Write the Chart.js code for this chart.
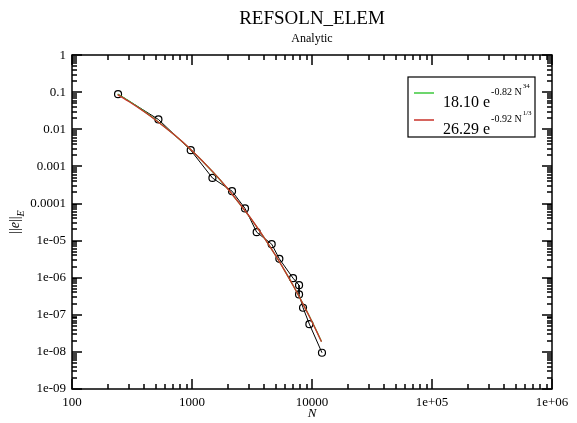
<!DOCTYPE html>
<html>
<head>
<meta charset="utf-8">
<script src="https://cdn.jsdelivr.net/npm/chart.js@4.4.0/dist/chart.umd.min.js"></script>
<style>
  html, body { margin: 0; padding: 0; background: #fff; }
</style>
</head>
<body>
<canvas id="chart" width="577" height="423"></canvas>
<script>
const SERIF = "'Liberation Serif', 'Times New Roman', serif";

// measured error vs number of unknowns
const sampleN = [242, 525, 976, 1480, 2155, 2765, 3460, 4613, 5345, 6950, 7800, 7800, 8420, 9510, 12110];
const sampleErr = [0.089, 0.0185, 0.00275, 4.9e-4, 2.16e-4, 7.4e-5, 1.69e-5, 8.05e-6, 3.23e-6, 9.75e-7, 6.3e-7, 3.55e-7, 1.55e-7, 5.6e-8, 9.5e-9];

// fitted curves
const fitN = [240, 300, 400, 500, 700, 1000, 1500, 2000, 3000, 4000, 5000, 6000, 7000, 8000, 9000, 10000, 11000, 12000];
const greenFit = [0.090, 0.0575, 0.0306, 0.0180, 0.00752, 0.00266, 7.0e-4, 2.42e-4, 4.5e-5, 1.18e-5, 3.85e-6, 1.44e-6, 6.0e-7, 2.7e-7, 1.3e-7, 6.6e-8, 3.5e-8, 1.9e-8];
const redFit = [0.0865, 0.0556, 0.0299, 0.0177, 0.00745, 0.00266, 7.02e-4, 2.43e-4, 4.55e-5, 1.19e-5, 3.87e-6, 1.44e-6, 5.98e-7, 2.68e-7, 1.28e-7, 6.47e-8, 3.41e-8, 1.87e-8];

// tick labels
const xDecades = [2, 3, 4, 5, 6];
const xTickLabels = ["100", "1000", "10000", "1e+05", "1e+06"];
const yDecades = [0, -1, -2, -3, -4, -5, -6, -7, -8, -9];
const yTickLabels = ["1", "0.1", "0.01", "0.001", "0.0001", "1e-05", "1e-06", "1e-07", "1e-08", "1e-09"];

// legend entries: base, exponent, exponent of N
const legendItems = [
  { color: "#3cc83c", base: "18.10 e", sup: "-0.82 N", sup2: "34" },
  { color: "#c8322a", base: "26.29 e", sup: "-0.92 N", sup2: "1/3" }
];

const GREEN = legendItems[0].color;
const RED = legendItems[1].color;

function toPoints(xs, ys) {
  return xs.map((x, i) => ({ x: x, y: ys[i] }));
}

function decadeLabel(v, decades, labels) {
  const p = Math.log10(v);
  const r = Math.round(p);
  if (Math.abs(p - r) > 1e-6) return "";
  const i = decades.indexOf(r);
  return i >= 0 ? labels[i] : "";
}

// frame, inward ticks on all four sides, y title, legend
const decorPlugin = {
  id: "decor",
  afterDraw(chart) {
    const ctx = chart.ctx;
    const a = chart.chartArea;
    const xs = chart.scales.x;
    const ys = chart.scales.y;
    const L = Math.round(a.left), R = Math.round(a.right);
    const T = Math.round(a.top), B = Math.round(a.bottom);
    ctx.save();
    ctx.strokeStyle = "#000";
    ctx.lineWidth = 1.5;
    ctx.strokeRect(L, T, R - L, B - T);

    ctx.beginPath();
    // x ticks, bottom and top
    for (let d = 2; d <= 6; d++) {
      for (let m = 1; m <= 9; m++) {
        const v = m * Math.pow(10, d);
        if (v > 1e6) break;
        const px = Math.round(xs.getPixelForValue(v));
        const len = m === 1 ? 10 : 5;
        ctx.moveTo(px, B); ctx.lineTo(px, B - len);
        ctx.moveTo(px, T); ctx.lineTo(px, T + len);
      }
    }
    // y ticks, left and right
    for (let d = -9; d <= 0; d++) {
      for (let m = 1; m <= 9; m++) {
        const v = m * Math.pow(10, d);
        if (v > 1) break;
        const py = Math.round(ys.getPixelForValue(v));
        const len = m === 1 ? 10 : 5;
        ctx.moveTo(L, py); ctx.lineTo(L + len, py);
        ctx.moveTo(R, py); ctx.lineTo(R - len, py);
      }
    }
    ctx.stroke();

    // y axis title ||e||_E
    ctx.save();
    ctx.fillStyle = "#000";
    ctx.translate(14, (a.top + a.bottom) / 2);
    ctx.rotate(-Math.PI / 2);
    ctx.textBaseline = "alphabetic";
    ctx.textAlign = "left";
    const parts = [
      { t: "||", f: "14px " + SERIF, dy: 0 },
      { t: "e", f: "italic 14px " + SERIF, dy: 0 },
      { t: "||", f: "14px " + SERIF, dy: 0 },
      { t: "E", f: "italic 10px " + SERIF, dy: 5 }
    ];
    let w = 0;
    parts.forEach(p => { ctx.font = p.f; w += ctx.measureText(p.t).width; });
    let x = -w / 2;
    parts.forEach(p => {
      ctx.font = p.f;
      ctx.fillText(p.t, x, 5 + p.dy);
      x += ctx.measureText(p.t).width;
    });
    ctx.restore();

    // legend box
    const bx = 408, by = 77, bw = 127, bh = 60;
    ctx.fillStyle = "#fff";
    ctx.fillRect(bx, by, bw, bh);
    ctx.strokeStyle = "#000";
    ctx.lineWidth = 1.2;
    ctx.strokeRect(bx, by, bw, bh);
    legendItems.forEach((it, i) => {
      const ly = by + 16 + i * 27;
      ctx.strokeStyle = it.color;
      ctx.lineWidth = 1.5;
      ctx.beginPath();
      ctx.moveTo(bx + 6, ly);
      ctx.lineTo(bx + 26, ly);
      ctx.stroke();
      ctx.fillStyle = "#000";
      ctx.textAlign = "left";
      ctx.textBaseline = "alphabetic";
      let tx = bx + 35;
      ctx.font = "16px " + SERIF;
      ctx.fillText(it.base, tx, ly + 14);
      tx += ctx.measureText(it.base).width + 1;
      ctx.font = "10px " + SERIF;
      ctx.fillText(it.sup, tx, ly + 2);
      tx += ctx.measureText(it.sup).width + 1;
      ctx.font = "7px " + SERIF;
      ctx.fillText(it.sup2, tx, ly - 5);
    });
    ctx.restore();
  }
};

new Chart(document.getElementById("chart"), {
  type: "scatter",
  data: {
    datasets: [
      {
        label: "red fit",
        data: toPoints(fitN, redFit),
        showLine: true,
        borderColor: RED,
        borderWidth: 1.3,
        pointRadius: 0,
        tension: 0.3
      },
      {
        label: "green fit",
        data: toPoints(fitN, greenFit),
        showLine: true,
        borderColor: GREEN,
        borderWidth: 1.3,
        pointRadius: 0,
        tension: 0.3
      },
      {
        label: "samples",
        data: toPoints(sampleN, sampleErr),
        showLine: true,
        borderColor: "#000",
        borderWidth: 1,
        pointRadius: 3.5,
        pointBorderWidth: 1.2,
        pointBorderColor: "#000",
        pointBackgroundColor: "rgba(0,0,0,0)"
      }
    ]
  },
  options: {
    responsive: false,
    animation: false,
    layout: { padding: { left: 0, right: 25, top: 0, bottom: 0 } },
    plugins: {
      legend: { display: false },
      tooltip: { enabled: false },
      title: {
        display: true,
        text: "REFSOLN_ELEM",
        color: "#000",
        fullSize: false,
        font: { family: SERIF, size: 19, weight: "normal" },
        padding: { top: 8, bottom: 0 }
      },
      subtitle: {
        display: true,
        text: "Analytic",
        color: "#000",
        fullSize: false,
        font: { family: SERIF, size: 12, weight: "normal" },
        padding: { top: 1, bottom: 9 }
      }
    },
    scales: {
      x: {
        type: "logarithmic",
        min: 100,
        max: 1e6,
        grid: { display: false, drawTicks: false },
        border: { display: false },
        afterFit: s => { s.height = 34; },
        ticks: {
          autoSkip: false,
          maxRotation: 0,
          padding: 6,
          color: "#000",
          font: { family: SERIF, size: 13 },
          callback: v => decadeLabel(v, xDecades, xTickLabels)
        },
        title: {
          display: true,
          text: "N",
          color: "#000",
          font: { family: SERIF, size: 13, style: "italic" },
          padding: { top: 0, bottom: 2 }
        }
      },
      y: {
        type: "logarithmic",
        min: 1e-9,
        max: 1,
        grid: { display: false, drawTicks: false },
        border: { display: false },
        afterFit: s => { s.width = 72; },
        ticks: {
          autoSkip: false,
          padding: 6,
          color: "#000",
          font: { family: SERIF, size: 13 },
          callback: v => decadeLabel(v, yDecades, yTickLabels)
        }
      }
    }
  },
  plugins: [decorPlugin]
});
</script>
</body>
</html>
